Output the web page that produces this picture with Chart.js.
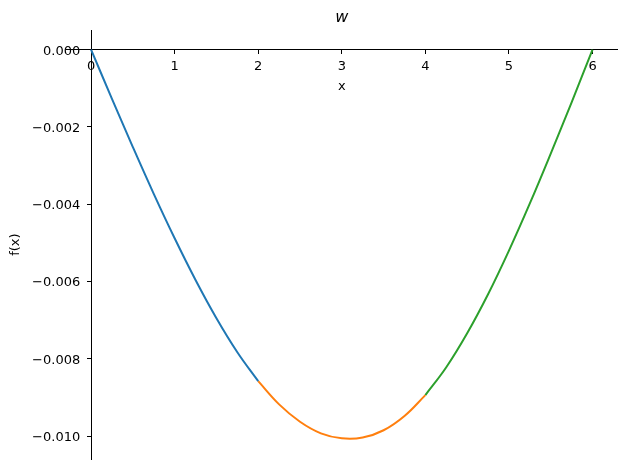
<!DOCTYPE html>
<html>
<head>
<meta charset="utf-8">
<script src="https://cdn.jsdelivr.net/npm/chart.js@4.4.1/dist/chart.umd.min.js"></script>
<style>
  html, body { margin: 0; padding: 0; background: #fff; }
  #wrap { width: 627px; height: 470px; }
</style>
</head>
<body>
<div id="wrap"><canvas id="chart" width="627" height="470"></canvas></div>
<script>
// piecewise curve, three pieces
const xBlue = [0, 0.25, 0.5, 0.75, 1.0, 1.25, 1.5, 1.75, 2.0];
const yBlue = [0, -0.00127, -0.00252, -0.00373, -0.00488, -0.00596, -0.00695, -0.00783, -0.00858];

const xOrange = [2.0, 2.25, 2.5, 2.75, 3.0, 3.25, 3.5, 3.75, 4.0];
const yOrange = [-0.00858, -0.00918, -0.00963, -0.00993, -0.01006, -0.01004, -0.00985, -0.00948, -0.00894];

const xGreen = [4.0, 4.25, 4.5, 4.75, 5.0, 5.25, 5.5, 5.75, 6.0];
const yGreen = [-0.00894, -0.00822, -0.00734, -0.00633, -0.0052, -0.00398, -0.00269, -0.00136, 0];

const xTicks = [0, 1, 2, 3, 4, 5, 6];
const yTicks = [0, -0.002, -0.004, -0.006, -0.008, -0.010];
const yTickLabels = ['0.000', '\u22120.002', '\u22120.004', '\u22120.006', '\u22120.008', '\u22120.010'];

const FONT = 'DejaVu Sans';

function pts(xs, ys) {
    return xs.map((x, i) => ({ x: x, y: ys[i] }));
}

function line(label, xs, ys, color) {
    return {
        label: label,
        data: pts(xs, ys),
        borderColor: color,
        backgroundColor: color,
        borderWidth: 2,
        pointRadius: 0,
        tension: 0.4,
        fill: false
    };
}

// axis titles: Chart.js puts them in odd places on centred axes, so draw them here
const axisTitles = {
    id: 'axisTitles',
    afterDraw(chart) {
        const { ctx, chartArea, scales } = chart;
        ctx.save();
        ctx.fillStyle = '#000';
        ctx.font = '13px "' + FONT + '"';
        ctx.textAlign = 'center';
        ctx.textBaseline = 'middle';
        const cx = (chartArea.left + chartArea.right) / 2;
        ctx.fillText('x', cx, scales.y.getPixelForValue(0) + 37);
        ctx.translate(16, (chartArea.top + chartArea.bottom) / 2);
        ctx.rotate(-Math.PI / 2);
        ctx.fillText('f(x)', 0, 0);
        ctx.restore();
    }
};

const ctx = document.getElementById('chart').getContext('2d');
new Chart(ctx, {
    type: 'line',
    data: {
        datasets: [
            line('blue', xBlue, yBlue, '#1f77b4'),
            line('orange', xOrange, yOrange, '#ff7f0e'),
            line('green', xGreen, yGreen, '#2ca02c')
        ]
    },
    options: {
        responsive: false,
        animation: false,
        layout: { padding: { left: 66, right: 9.4, top: 0, bottom: 11 } },
        plugins: {
            legend: { display: false },
            tooltip: { enabled: false },
            title: {
                display: true,
                text: 'w',
                color: '#000',
                font: { family: FONT, size: 16, style: 'italic', weight: 'normal' },
                padding: { top: 8, bottom: 3 }
            }
        },
        scales: {
            x: {
                type: 'linear',
                position: { y: 0 },
                min: -0.3,
                max: 6.3,
                afterBuildTicks: (s) => { s.ticks = xTicks.map(v => ({ value: v })); },
                afterFit: (s) => { s.height = 0; },
                grid: { drawOnChartArea: false, drawTicks: true, tickLength: 4, color: '#000' },
                border: { display: true, color: '#000', width: 1 },
                ticks: { color: '#000', padding: 5, maxRotation: 0, font: { family: FONT, size: 13 } }
            },
            y: {
                type: 'linear',
                position: { x: 0 },
                min: -0.010594,
                max: 0.000505,
                afterBuildTicks: (s) => { s.ticks = yTicks.map(v => ({ value: v })); },
                afterFit: (s) => { s.width = 0; },
                grid: { drawOnChartArea: false, drawTicks: true, tickLength: 4, color: '#000' },
                border: { display: true, color: '#000', width: 1 },
                ticks: {
                    color: '#000',
                    labelOffset: 1.5,
                    font: { family: FONT, size: 13 },
                    // centred y axes draw labels right on the line; a figure space + thin space
                    // gives them the same gap from the axis as the reference
                    callback: (v) => yTickLabels[yTicks.findIndex(t => Math.abs(t - v) < 1e-9)] + '\u2007\u2009'
                }
            }
        }
    },
    plugins: [axisTitles]
});
</script>
</body>
</html>
